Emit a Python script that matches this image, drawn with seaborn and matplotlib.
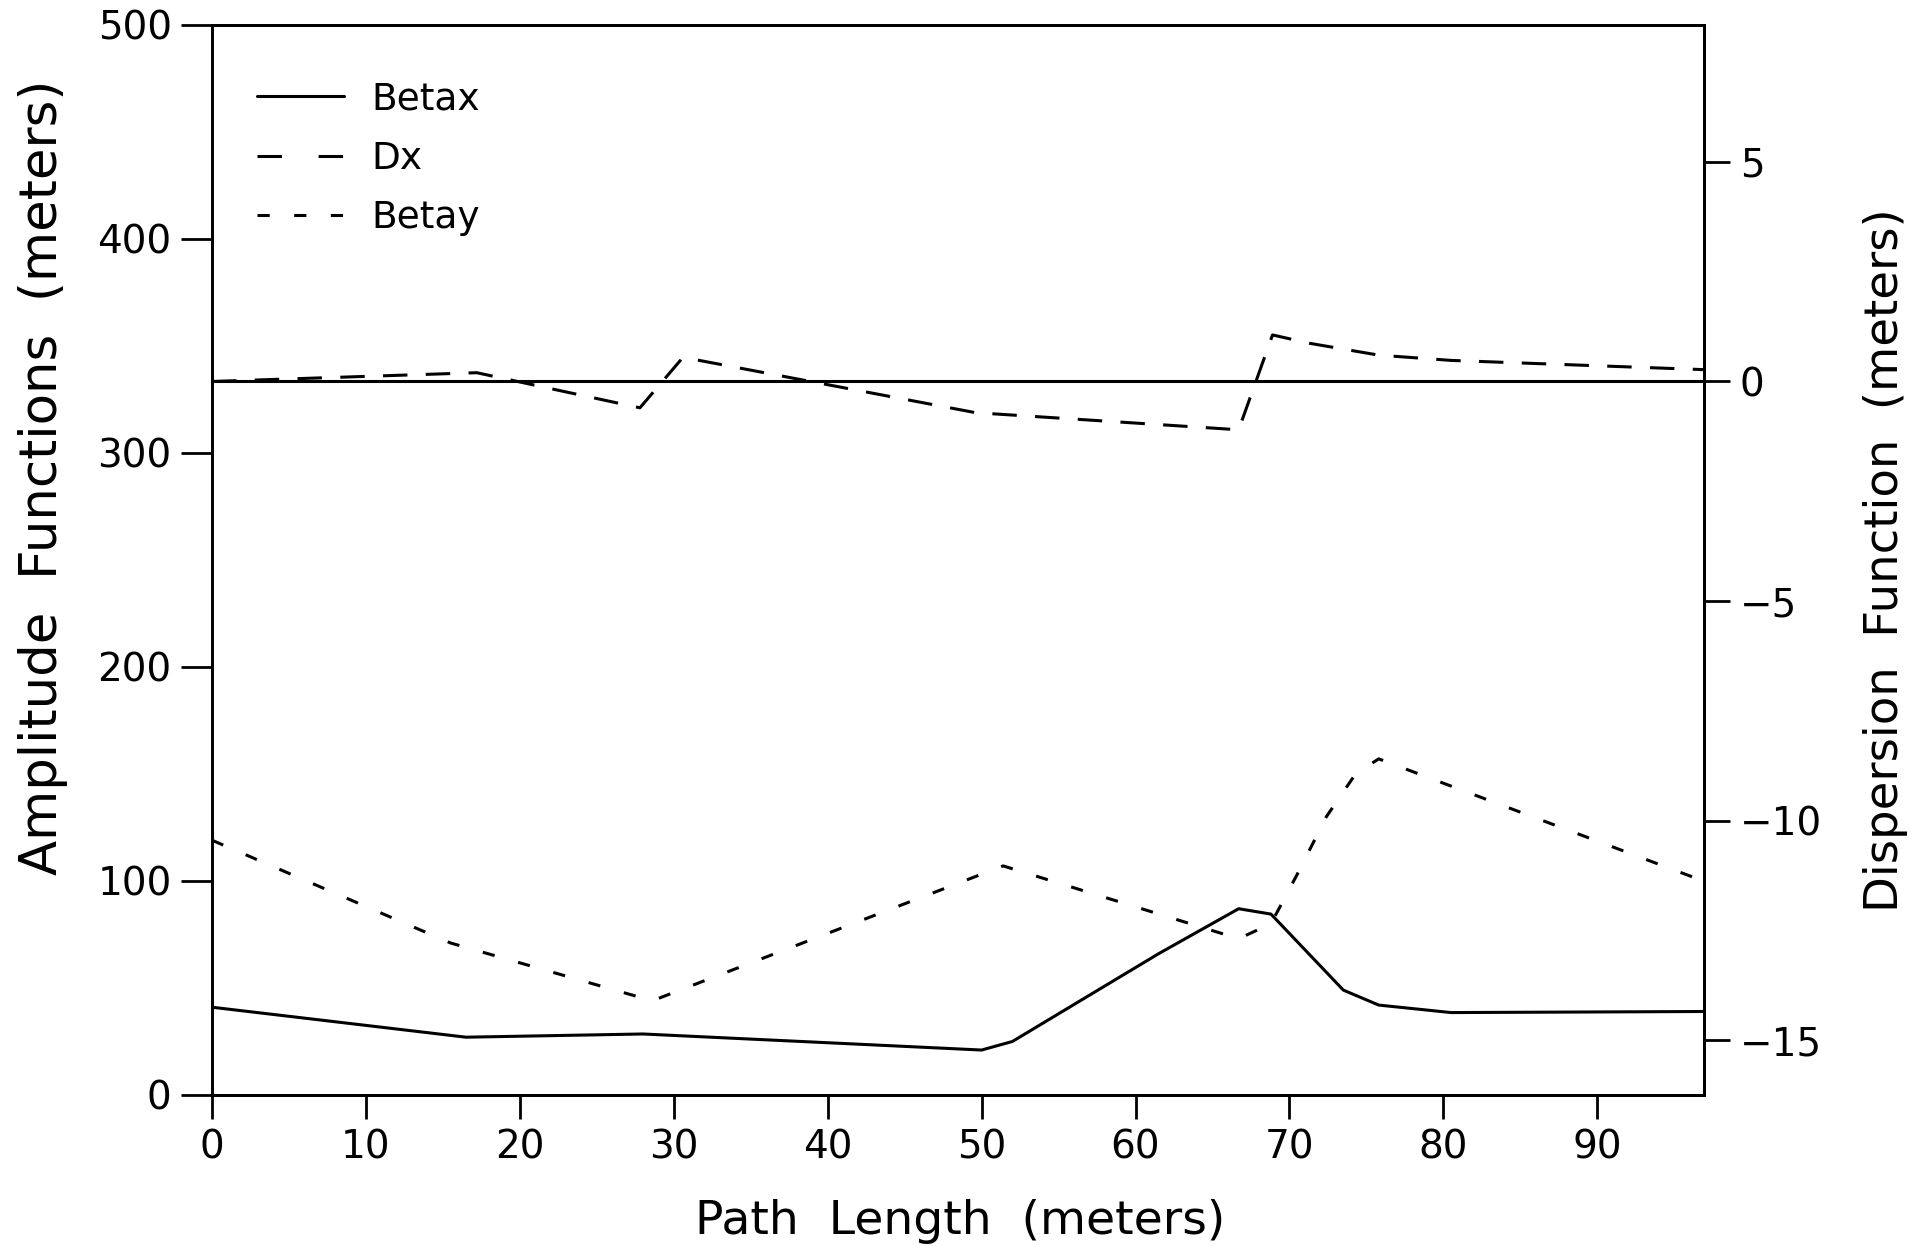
import matplotlib
matplotlib.use("Agg")
import matplotlib.pyplot as plt
import seaborn as sns
from matplotlib.lines import Line2D

# Lattice functions along the beam line
betax_s = [0, 16.5, 28, 50, 52, 61.5, 66.7, 68.8, 73.5, 75.8, 80.5, 96.9]
betax = [41, 27, 28.5, 21, 25, 66, 87, 84.5, 49, 42, 38.5, 39]

betay_s = [0, 15.5, 28.6, 51.4, 66.7, 68.8, 70.5, 72.4, 74.3, 75.8, 96.5]
betay = [119, 71, 44, 107, 73, 80, 103, 130, 150, 157, 101]

dx_s = [0, 17.2, 27.8, 30.6, 49.6, 66.7, 68.9, 71.3, 75.8, 80.5, 90.6, 96.9]
dx = [0, 0.2, -0.6, 0.55, -0.71, -1.1, 1.06, 0.87, 0.6, 0.48, 0.35, 0.27]

left_ticks = [0, 100, 200, 300, 400, 500]
right_ticks = [-15, -10, -5, 0, 5]
x_ticks = [0, 10, 20, 30, 40, 50, 60, 70, 80, 90]

sns.set_style("ticks")
plt.rcParams["font.family"] = ["DejaVu Sans"]
plt.rcParams["axes.linewidth"] = 2.0
for key in ("text.color", "axes.labelcolor", "xtick.color", "ytick.color", "axes.edgecolor"):
    plt.rcParams[key] = "black"

W, H = 1923, 1246
fig = plt.figure(figsize=(W / 100, H / 100), dpi=100)
ax = fig.add_axes([212 / W, 1 - 1095 / H, (1703.5 - 212) / W, (1095 - 24.5) / H])
ax2 = ax.twinx()

lw = 2.2
solid = "-"
long_dash = (0, (8, 6))
short_dash = (0, (4, 8))

sns.lineplot(x=betax_s, y=betax, ax=ax, color="black", lw=lw, linestyle=solid)
sns.lineplot(x=betay_s, y=betay, ax=ax, color="black", lw=lw, linestyle=short_dash)
sns.lineplot(x=dx_s, y=dx, ax=ax2, color="black", lw=lw, linestyle=long_dash)
ax2.axhline(0, color="black", lw=2.2)

ax.set_xlim(0, 96.9)
ax.set_ylim(0, 500)
ax2.set_ylim(-16.25, 8.13)

ax.set_xticks(x_ticks)
ax.set_yticks(left_ticks)
ax2.set_yticks(right_ticks)

tick_font = 28
ax.tick_params(axis="y", direction="out", length=22, width=2, pad=7,
               labelsize=tick_font, colors="black")
ax.tick_params(axis="x", direction="out", length=17, width=2, pad=7,
               labelsize=tick_font, colors="black")
ax2.tick_params(axis="y", direction="out", length=19, width=2, pad=7,
                labelsize=tick_font, colors="black")

for a in (ax, ax2):
    for sp in a.spines.values():
        sp.set_visible(True)
        sp.set_linewidth(2.0)
        sp.set_color("black")

ax.set_xlabel("")
ax.set_ylabel("")
ax2.set_ylabel("")

fig.text(43 / W, 1 - 477 / H, "Amplitude  Functions  (meters)", rotation=90,
         ha="center", va="center", fontsize=37, color="black")
fig.text(1885 / W, 1 - 560 / H, "Dispersion  Function  (meters)", rotation=90,
         ha="center", va="center", fontsize=33.5, color="black")
fig.text(960 / W, 1 - 1221 / H, "Path  Length  (meters)",
         ha="center", va="center", fontsize=34, color="black")

handles = [
    Line2D([], [], color="black", lw=lw, linestyle=solid),
    Line2D([], [], color="black", lw=lw, linestyle=(0, (8, 12))),
    Line2D([], [], color="black", lw=lw, linestyle=short_dash),
]
leg = ax2.legend(handles, ["Betax", "Dx", "Betay"], loc="upper left",
                 bbox_to_anchor=(0.0305, 0.947), borderaxespad=0, borderpad=0,
                 frameon=False, fontsize=27, handlelength=2.3, handletextpad=0.75,
                 labelspacing=0.63)
for t in leg.get_texts():
    t.set_color("black")

fig.savefig("out.png", dpi=100)
